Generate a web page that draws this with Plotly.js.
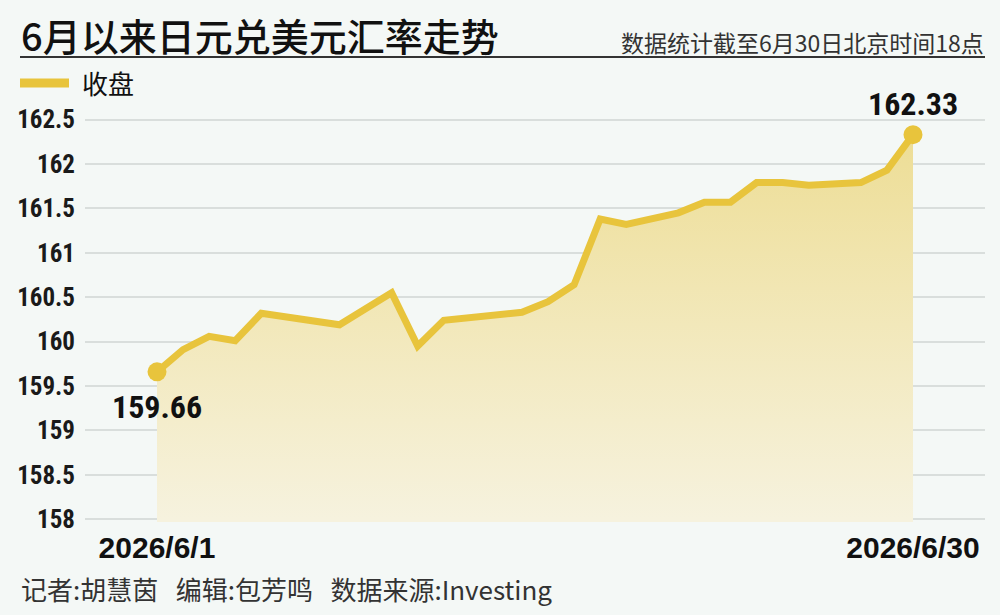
<!DOCTYPE html>
<html>
<head>
<meta charset="utf-8">
<script src="https://cdn.plot.ly/plotly-3.0.1.min.js"></script>
<style>
html,body{margin:0;padding:0;background:#F4F8F6;}
#chart{width:1000px;height:615px;}
</style>
</head>
<body>
<div id="chart"></div>
<script>
// ---- data ----
var dates = ['2026-06-01','2026-06-02','2026-06-03','2026-06-04','2026-06-05',
             '2026-06-08','2026-06-09','2026-06-10','2026-06-11','2026-06-12',
             '2026-06-15','2026-06-16','2026-06-17','2026-06-18','2026-06-19',
             '2026-06-21','2026-06-22','2026-06-23','2026-06-24','2026-06-25',
             '2026-06-26','2026-06-28','2026-06-29','2026-06-30'];
var closeValues = [159.66,159.91,160.06,160.01,160.32,
                   160.19,160.37,160.55,159.95,160.24,
                   160.33,160.45,160.64,161.38,161.32,
                   161.45,161.57,161.57,161.79,161.79,
                   161.76,161.79,161.93,162.33];
var xTickText = ['2026/6/1','2026/6/30'];
var yTickVals = [158,158.5,159,159.5,160,160.5,161,161.5,162,162.5];
var yTickText = ['158','158.5','159','159.5','160','160.5','161','161.5','162','162.5'];
var seriesName = '收盘';
var titleText = '6月以来日元兑美元汇率走势';
var subtitleText = '数据统计截至6月30日北京时间18点';
var footerText = '记者:胡慧茵&nbsp;&nbsp;&nbsp;编辑:包芳鸣&nbsp;&nbsp;&nbsp;数据来源:Investing';

// ---- layout helpers (pixel -> paper) ----
var W = 1000, H = 615, ML = 85, MR = 15, MT = 84, MB = 93;
var PW = W - ML - MR, PH = H - MT - MB;
function px(x){ return (x - ML) / PW; }
function py(y){ return (H - MB - y) / PH; }

var n = dates.length;
var endIdx = [0, n-1];

var lineColor = '#E8C43C';
var narrow = '"Liberation Sans Narrow", "Roboto Condensed", "Liberation Sans", Arial, sans-serif';
var cjk = '"Noto Sans CJK SC", "Noto Sans", sans-serif';

var areaTrace = {
  type: 'scatter',
  mode: 'lines',
  name: seriesName,
  x: dates,
  y: closeValues,
  line: {color: lineColor, width: 7, shape: 'linear'},
  fill: 'tozeroy',
  fillgradient: {
    type: 'vertical',
    start: 158,
    stop: 162.4,
    colorscale: [[0, 'rgb(246,242,222)'], [0.5, 'rgb(242,232,186)'], [1, 'rgb(237,221,148)']]
  },
  fillcolor: 'rgba(240,228,175,1)',
  hoverinfo: 'skip',
  showlegend: false
};

var endTrace = {
  type: 'scatter',
  mode: 'markers',
  name: seriesName,
  x: endIdx.map(function(i){ return dates[i]; }),
  y: endIdx.map(function(i){ return closeValues[i]; }),
  marker: {color: lineColor, size: 19, opacity: 1, line: {width: 0}},
  hoverinfo: 'skip',
  showlegend: false,
  cliponaxis: false
};

var layout = {
  width: W, height: H,
  margin: {l: ML, r: MR, t: MT, b: MB, pad: 0},
  paper_bgcolor: '#F4F8F6',
  plot_bgcolor: '#F4F8F6',
  showlegend: false,
  xaxis: {
    type: 'date',
    range: ['2026-05-29 05:43', '2026-07-02 18:17'],
    tickvals: [dates[0], dates[n-1]],
    ticktext: xTickText,
    showgrid: false, zeroline: false, showline: false,
    ticks: '',
    ticklabelstandoff: 5,
    tickfont: {family: '"Liberation Sans", Arial, sans-serif', size: 30, color: '#111111', weight: 'bold'}
  },
  yaxis: {
    range: [157.97, 162.9],
    tickvals: yTickVals,
    ticktext: yTickText,
    showgrid: true, gridcolor: '#D9DEDC', gridwidth: 2,
    zeroline: false, showline: false,
    ticks: '',
    ticklabelstandoff: 9,
    tickfont: {family: narrow, size: 25, color: '#1A1A1A', weight: 'bold'}
  },
  shapes: [
    {type: 'line', xref: 'paper', yref: 'paper', x0: px(20), x1: px(985), y0: py(57), y1: py(57),
     line: {color: '#333333', width: 2}},
    {type: 'line', xref: 'paper', yref: 'paper', x0: px(20), x1: px(69), y0: py(83), y1: py(83),
     line: {color: lineColor, width: 9}}
  ],
  annotations: [
    {xref: 'paper', yref: 'paper', x: px(19), y: py(35), xanchor: 'left', yanchor: 'middle',
     text: titleText, showarrow: false,
     font: {family: cjk, size: 38, color: '#111111', weight: 500}},
    {xref: 'paper', yref: 'paper', x: px(986), y: py(42), xanchor: 'right', yanchor: 'middle',
     text: subtitleText, showarrow: false,
     font: {family: cjk, size: 23, color: '#333333'}},
    {xref: 'paper', yref: 'paper', x: px(80), y: py(82), xanchor: 'left', yanchor: 'middle',
     text: seriesName, showarrow: false,
     font: {family: cjk, size: 26, color: '#111111'}},
    {xref: 'x', yref: 'y', x: dates[0], y: closeValues[0], xanchor: 'center', yanchor: 'middle',
     yshift: -35, text: closeValues[0].toFixed(2), showarrow: false,
     font: {family: narrow, size: 32, color: '#111111', weight: 'bold'}},
    {xref: 'x', yref: 'y', x: dates[n-1], y: closeValues[n-1], xanchor: 'center', yanchor: 'middle',
     yshift: 31, text: closeValues[n-1].toFixed(2), showarrow: false,
     font: {family: narrow, size: 32, color: '#111111', weight: 'bold'}},
    {xref: 'paper', yref: 'paper', x: px(19), y: py(588), xanchor: 'left', yanchor: 'middle',
     text: footerText, showarrow: false,
     font: {family: cjk, size: 26, color: '#333333'}}
  ]
};

Plotly.newPlot('chart', [areaTrace, endTrace], layout, {staticPlot: true, displayModeBar: false});
</script>
</body>
</html>
